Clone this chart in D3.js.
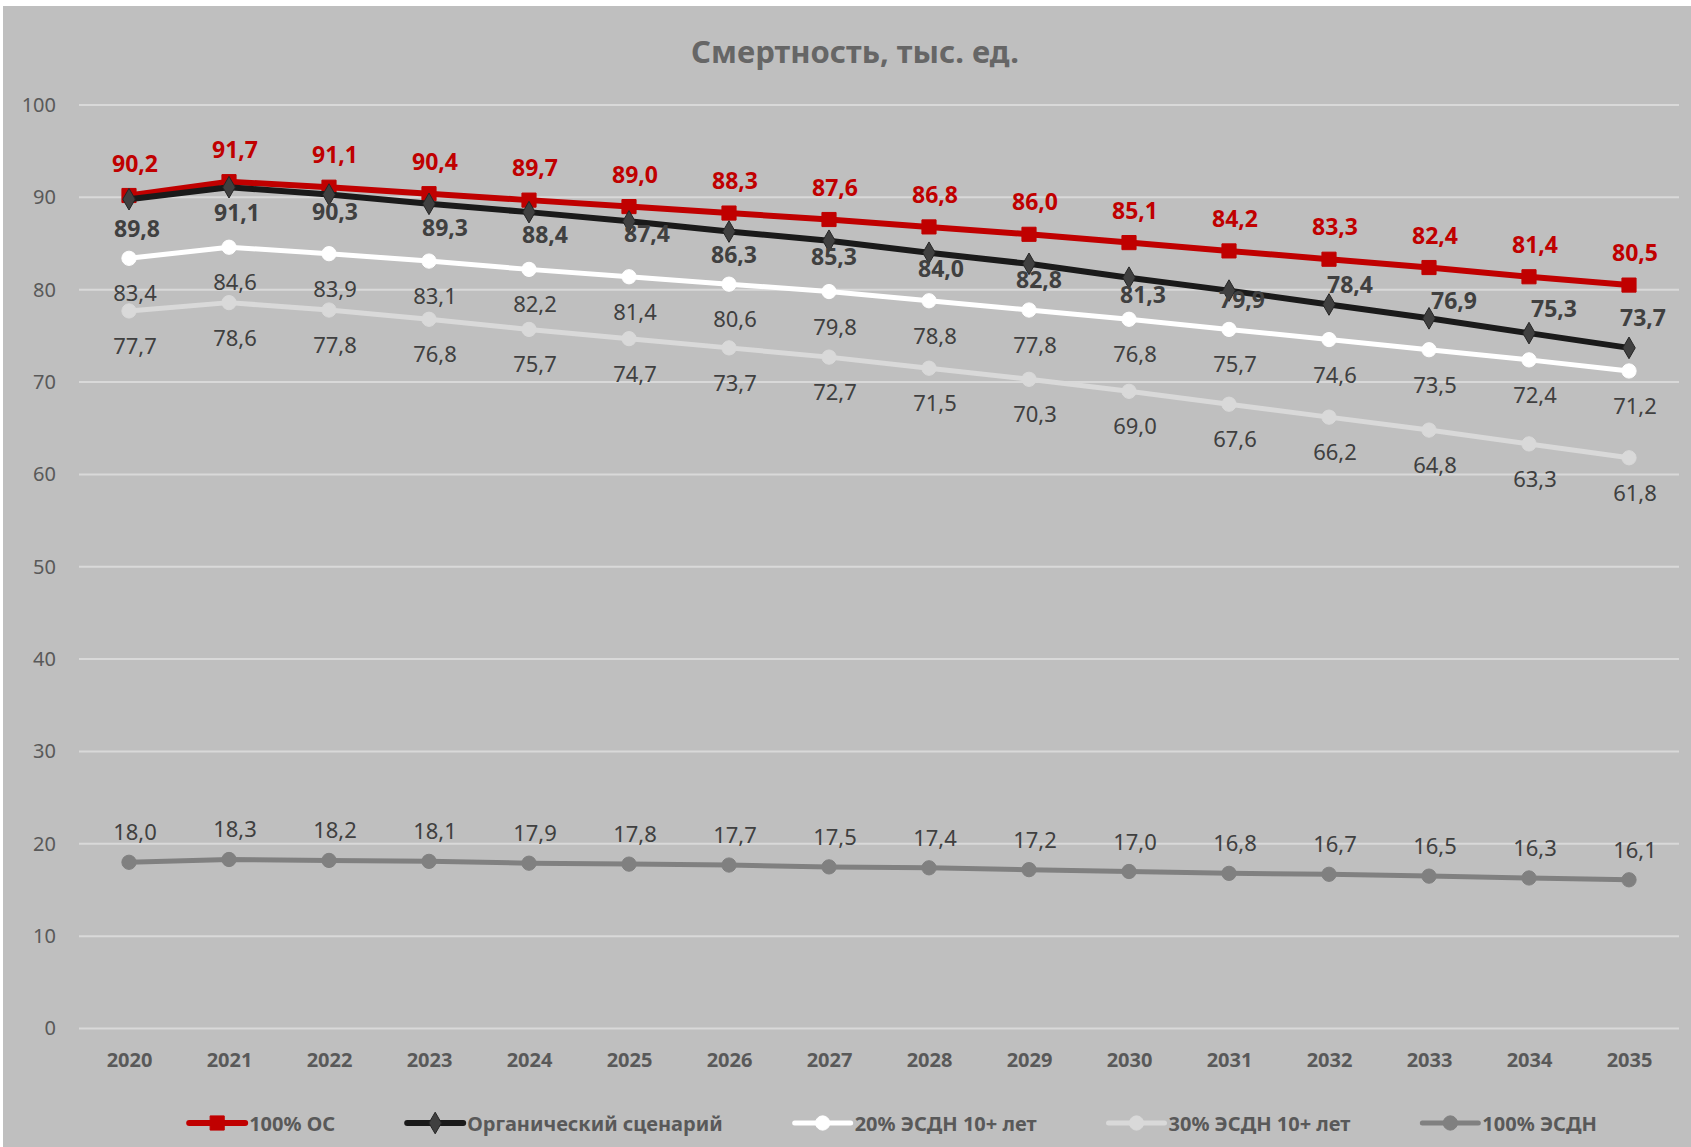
<!DOCTYPE html>
<html>
<head>
<meta charset="utf-8">
<script src="https://cdn.jsdelivr.net/npm/d3@7"></script>
<style>
  html, body { margin: 0; padding: 0; background: #fff; }
  svg { display: block; font-family: "Noto Sans", "Open Sans", sans-serif; }
</style>
</head>
<body>
<svg id="chart"></svg>
<script>
// Données
const years = [2020, 2021, 2022, 2023, 2024, 2025, 2026, 2027, 2028, 2029, 2030, 2031, 2032, 2033, 2034, 2035];
const seriesNames = ["100% ОС", "Органический сценарий", "20% ЭСДН 10+ лет", "30% ЭСДН 10+ лет", "100% ЭСДН"];
const os100 = [90.2, 91.7, 91.1, 90.4, 89.7, 89.0, 88.3, 87.6, 86.8, 86.0, 85.1, 84.2, 83.3, 82.4, 81.4, 80.5];
const organic = [89.8, 91.1, 90.3, 89.3, 88.4, 87.4, 86.3, 85.3, 84.0, 82.8, 81.3, 79.9, 78.4, 76.9, 75.3, 73.7];
const esdn20 = [83.4, 84.6, 83.9, 83.1, 82.2, 81.4, 80.6, 79.8, 78.8, 77.8, 76.8, 75.7, 74.6, 73.5, 72.4, 71.2];
const esdn30 = [77.7, 78.6, 77.8, 76.8, 75.7, 74.7, 73.7, 72.7, 71.5, 70.3, 69.0, 67.6, 66.2, 64.8, 63.3, 61.8];
const esdn100 = [18.0, 18.3, 18.2, 18.1, 17.9, 17.8, 17.7, 17.5, 17.4, 17.2, 17.0, 16.8, 16.7, 16.5, 16.3, 16.1];
const yTicks = [0, 10, 20, 30, 40, 50, 60, 70, 80, 90, 100];

// Décalage manuel des étiquettes du scénario organique (px)
const organicLabelDx = [8, 8, 6, 16, 16, 18, 5, 5, 12, 10, 14, 13, 21, 25, 25, 14];
const organicLabelDy = [29, 25, 16, 23, 22, 12, 22, 15, 15, 15, 16, 8, -20, -18, -25, -31];

// Dimensions
const width = 1691, height = 1147;
const svg = d3.select("#chart").attr("width", width).attr("height", height);

svg.append("rect").attr("x", 3).attr("y", 6).attr("width", width - 3).attr("height", height - 6)
    .attr("fill", "#bfbfbf");

const x = d3.scalePoint().domain(years).range([79, 1679]).padding(0.5);
const y = d3.scaleLinear().domain([0, 100]).range([1028.5, 105]);

// Titre
svg.append("text")
    .attr("x", 855).attr("y", 51)
    .attr("text-anchor", "middle").attr("dominant-baseline", "central")
    .attr("font-size", 31).attr("font-weight", "bold").attr("fill", "#666")
    .text("Смертность, тыс. ед.");

// Grille
svg.append("g").selectAll("line").data(yTicks).enter().append("line")
    .attr("x1", 79).attr("x2", 1679)
    .attr("y1", d => y(d)).attr("y2", d => y(d))
    .attr("stroke", "#d9d9d9").attr("stroke-width", 2);

// Axe Y
const yAxis = svg.append("g").attr("transform", "translate(62,0)")
    .call(d3.axisLeft(y).tickValues(yTicks).tickSize(0).tickPadding(6));
yAxis.select(".domain").remove();
yAxis.selectAll("text").attr("font-size", 20).attr("fill", "#595959").attr("font-family", "Noto Sans");

// Axe X
const xAxis = svg.append("g").attr("transform", "translate(0,1060)")
    .call(d3.axisBottom(x).tickSize(0).tickPadding(0));
xAxis.select(".domain").remove();
xAxis.selectAll("text").attr("dy", "0.35em").attr("font-size", 20).attr("font-weight", "bold")
    .attr("fill", "#595959").attr("font-family", "Noto Sans");

// Séries
const series = [
    { name: seriesNames[0], values: os100, color: "#c00000", width: 6, marker: "square", mfill: "#c00000", mstroke: "#c00000",
      lcolor: "#c00000", lweight: "bold", lsize: 23, dy: -33 },
    { name: seriesNames[1], values: organic, color: "#1a1a1a", width: 6, marker: "diamond", mfill: "#404040", mstroke: "#262626",
      lcolor: "#404040", lweight: "bold", lsize: 23, dxs: organicLabelDx, dys: organicLabelDy },
    { name: seriesNames[2], values: esdn20, color: "#ffffff", width: 5, marker: "circle", mfill: "#ffffff", mstroke: "#ffffff",
      lcolor: "#404040", lweight: "normal", lsize: 22, dy: 34 },
    { name: seriesNames[3], values: esdn30, color: "#d9d9d9", width: 5, marker: "circle", mfill: "#d9d9d9", mstroke: "#d9d9d9",
      lcolor: "#404040", lweight: "normal", lsize: 22, dy: 34 },
    { name: seriesNames[4], values: esdn100, color: "#808080", width: 5, marker: "circle", mfill: "#808080", mstroke: "#808080",
      lcolor: "#404040", lweight: "normal", lsize: 22, dy: -31 }
];

const symbolFor = m => m === "square" ? d3.symbol().type(d3.symbolSquare).size(200)
    : m === "diamond" ? d3.symbol().type(d3.symbolDiamond).size(135)
    : d3.symbol().type(d3.symbolCircle).size(160);

const line = d3.line().x((d, i) => x(years[i])).y(d => y(d));
const marks = svg.append("g");

series.forEach(s => {
    const g = marks.append("g");
    g.append("path").datum(s.values)
        .attr("d", line).attr("fill", "none")
        .attr("stroke", s.color).attr("stroke-width", s.width)
        .attr("stroke-linejoin", "round");
    g.selectAll("path.m").data(s.values).enter().append("path")
        .attr("class", "m")
        .attr("transform", (d, i) => `translate(${x(years[i])},${y(d)})`)
        .attr("d", symbolFor(s.marker))
        .attr("fill", s.mfill).attr("stroke", s.mstroke).attr("stroke-width", 1);
});

// Étiquettes de données
const fmt = v => v.toFixed(1).replace(".", ",");
series.forEach(s => {
    svg.append("g").selectAll("text").data(s.values).enter().append("text")
        .attr("x", (d, i) => x(years[i]) + (s.dxs ? s.dxs[i] : 6))
        .attr("y", (d, i) => y(d) + (s.dys ? s.dys[i] : s.dy))
        .attr("text-anchor", "middle").attr("dominant-baseline", "central")
        .attr("font-size", s.lsize).attr("font-weight", s.lweight).attr("fill", s.lcolor)
        .text(fmt);
});

// Légende
const legend = svg.append("g");
let lx = 0;
series.forEach(s => {
    const item = legend.append("g").attr("transform", `translate(${lx},0)`);
    item.append("line").attr("x1", 0).attr("x2", 56).attr("y1", 0).attr("y2", 0)
        .attr("stroke", s.color).attr("stroke-width", s.width).attr("stroke-linecap", "round");
    item.append("path").attr("transform", "translate(28,0)").attr("d", symbolFor(s.marker))
        .attr("fill", s.mfill).attr("stroke", s.mstroke).attr("stroke-width", 1);
    const t = item.append("text").attr("x", 60).attr("y", 0).attr("dominant-baseline", "central")
        .attr("font-size", 20).attr("font-weight", "bold").attr("fill", "#595959")
        .text(s.name);
    lx += 60 + t.node().getComputedTextLength() + 72;
});
const legendWidth = lx - 72;
legend.attr("transform", `translate(${893 - legendWidth / 2},1123)`);
</script>
</body>
</html>
